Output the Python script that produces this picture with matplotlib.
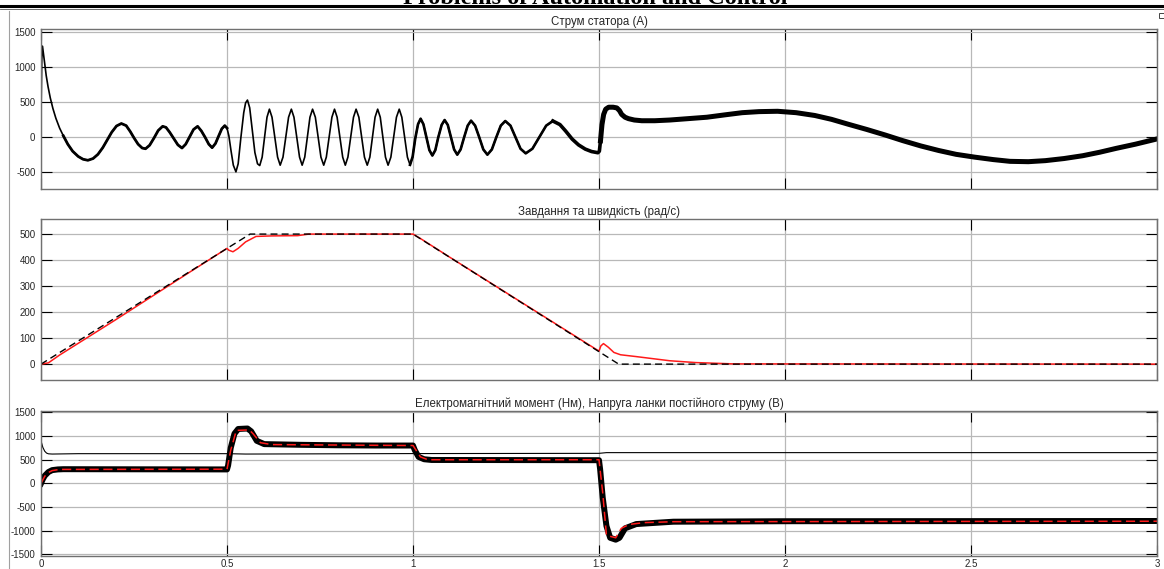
import matplotlib
matplotlib.use("Agg")
import matplotlib.pyplot as plt
from matplotlib.lines import Line2D
from matplotlib.patches import Rectangle
import numpy as np

plt.rcParams['font.family'] = ['Liberation Sans', 'DejaVu Sans']
plt.rcParams['axes.unicode_minus'] = False

# stator current, phase A (A)
t_cur_start = [0.000, 0.002, 0.004, 0.007, 0.010, 0.014, 0.019, 0.025, 0.032, 0.040,
               0.050, 0.060, 0.072, 0.085, 0.100, 0.113, 0.126, 0.140, 0.153, 0.166,
               0.178, 0.190, 0.203, 0.216, 0.229, 0.240, 0.250, 0.261, 0.272, 0.281,
               0.292, 0.304, 0.315, 0.327, 0.336, 0.346, 0.357, 0.368, 0.379, 0.389,
               0.399, 0.410, 0.421, 0.431, 0.441, 0.451, 0.460, 0.469, 0.477, 0.486,
               0.494, 0.500, 0.505, 0.511, 0.517, 0.524, 0.530, 0.537, 0.545, 0.550,
               0.555, 0.561, 0.568, 0.575, 0.582]
i_cur_start = [300, 1100, 1300, 1180, 1050, 880, 720, 560, 410, 270,
               130, 20, -100, -200, -275, -315, -330, -305, -245, -150,
               -40, 70, 160, 195, 165, 80, -10, -100, -155, -165,
               -115, -10, 95, 155, 140, 70, -20, -110, -155, -100,
               0, 110, 155, 90, 0, -100, -150, -90, 10, 120,
               165, 130, 20, -200, -400, -495, -380, -20, 350, 490,
               530, 420, 100, -220, -380]

t_cur_mid = [0.588, 0.5945, 0.601, 0.6075, 0.614, 0.621, 0.6285, 0.636, 0.643,
             0.6505, 0.658, 0.6655, 0.673, 0.680, 0.6875, 0.695, 0.702,
             0.709, 0.716, 0.723, 0.730, 0.7375, 0.745, 0.7525, 0.760,
             0.767, 0.7745, 0.782, 0.789, 0.796, 0.8035, 0.811, 0.818,
             0.825, 0.8325, 0.840, 0.847, 0.8545, 0.862, 0.8695, 0.877,
             0.884, 0.891, 0.898, 0.905, 0.912, 0.919, 0.926, 0.933,
             0.9405, 0.948, 0.9555, 0.963, 0.970, 0.9775, 0.985, 0.992]
i_cur_mid = [-405, -285, 0, 285, 400, 285, 0, -285, -400,
             -285, 0, 285, 400, 285, 0, -285, -400,
             -285, 0, 285, 400, 285, 0, -285, -400,
             -285, 0, 285, 400, 285, 0, -285, -400,
             -285, 0, 285, 400, 285, 0, -285, -400,
             -285, 0, 285, 400, 285, 0, -285, -400,
             -285, 0, 285, 400, 285, 0, -285, -395]

t_cur_end = [0.999, 1.006, 1.0135, 1.0205, 1.028, 1.036, 1.044, 1.052,
             1.060, 1.068, 1.077, 1.085, 1.0935, 1.102, 1.1105, 1.119,
             1.128, 1.1375, 1.147, 1.156, 1.167, 1.178, 1.189, 1.200,
             1.212, 1.224, 1.236, 1.248, 1.262, 1.2755, 1.289, 1.303,
             1.321, 1.3395, 1.358, 1.376, 1.395, 1.410, 1.428, 1.445,
             1.463, 1.480, 1.497, 1.501, 1.504, 1.508, 1.5125, 1.518,
             1.526, 1.538, 1.548, 1.555, 1.561, 1.570, 1.579, 1.595,
             1.615, 1.650, 1.690, 1.740, 1.790, 1.840, 1.885, 1.930,
             1.980, 2.030, 2.080, 2.125, 2.170, 2.220, 2.270, 2.317,
             2.365, 2.413, 2.460, 2.510, 2.560, 2.605, 2.654, 2.700,
             2.750, 2.800, 2.846, 2.890, 2.942, 3.000]
i_cur_end = [-280, -20, 185, 264, 185, 0, -185, -262,
             -185, 0, 175, 245, 175, 0, -175, -250,
             -175, 0, 165, 236, 165, 0, -175, -250,
             -175, 0, 165, 231, 165, 0, -165, -231,
             -165, 0, 165, 231, 180, 90, -28, -110,
             -170, -205, -222, -200, -52, 180, 325, 400,
             428, 428, 418, 380, 325, 285, 265, 245,
             235, 235, 245, 265, 285, 320, 350, 365,
             370, 350, 310, 255, 185, 110, 30, -50,
             -125, -190, -245, -285, -320, -345, -350, -335,
             -305, -265, -215, -160, -100, -25]

# speed reference and actual speed (rad/s)
t_w_ref = [0.0, 0.562, 1.0, 1.553, 3.0]
w_ref = [0, 500, 500, 0, 0]
t_w = [0.0, 0.02, 0.05, 0.1, 0.2, 0.3, 0.4, 0.5, 0.505, 0.516, 0.53, 0.55,
       0.578, 0.62, 0.69, 0.72, 1.0, 1.02, 1.1, 1.2, 1.3, 1.4, 1.5, 1.505,
       1.512, 1.525, 1.54, 1.558, 1.6, 1.69, 1.76, 1.86, 3.0]
w_act = [0, 5, 35, 80, 170, 262, 354, 445, 438, 432, 445, 470,
         491, 493, 494, 500, 500, 483, 410, 320, 230, 140, 50, 70,
         79, 65, 45, 36, 29, 13, 6, 1, 0]

# electromagnetic torque (Nm), its reference and DC link voltage (V)
t_trq = [0.0, 0.005, 0.01, 0.02, 0.03, 0.045, 0.06, 0.5, 0.503, 0.51, 0.52,
         0.53, 0.555, 0.565, 0.58, 0.6, 0.7, 0.8, 0.9, 1.0, 1.005, 1.015,
         1.03, 1.05, 1.5, 1.503, 1.51, 1.52, 1.53, 1.545, 1.555, 1.57, 1.6,
         1.7, 2.0, 3.0]
trq = [0, 90, 160, 240, 280, 295, 300, 295, 380, 750, 1050,
       1150, 1160, 1100, 900, 830, 815, 805, 800, 800, 700, 560,
       510, 495, 490, 300, -300, -900, -1150, -1190, -1150, -950, -860,
       -810, -800, -795]
t_trq_ref = [0.0, 0.01, 0.02, 0.03, 0.05, 0.5, 0.51, 0.525, 0.56, 0.57, 0.59,
             0.62, 1.0, 1.02, 1.04, 1.5, 1.51, 1.52, 1.545, 1.56, 1.58, 1.62,
             1.7, 3.0]
trq_ref = [0, 150, 230, 270, 295, 300, 700, 1120, 1130, 1050, 860,
           820, 800, 560, 500, 500, -200, -1100, -1150, -950, -870, -830,
           -810, -800]
t_udc = [0.0, 0.005, 0.01, 0.015, 0.02, 0.03, 0.1, 0.5, 0.55, 1.0, 1.5, 1.52, 3.0]
udc = [900, 760, 680, 640, 625, 620, 628, 628, 620, 630, 635, 650, 650]

x_ticks = [0, 0.5, 1, 1.5, 2, 2.5, 3]
x_labels = ['0', '0.5', '1', '1.5', '2', '2.5', '3']
titles = ['Струм статора (А)',
          'Завдання та швидкість (рад/с)',
          'Електромагнітний момент (Нм), Напруга ланки постійного струму (В)']

W, H = 1164, 569
fig = plt.figure(figsize=(W / 100, H / 100), dpi=100)


def axes_px(x0, y0, x1, y1):
    return fig.add_axes([x0 / W, 1 - y1 / H, (x1 - x0) / W, (y1 - y0) / H])


ax1 = axes_px(41, 29, 1157, 189)
ax2 = axes_px(41, 219, 1157, 380)
ax3 = axes_px(41, 411, 1157, 556)

for ax, title in zip([ax1, ax2, ax3], titles):
    ax.set_xlim(0, 3)
    ax.set_xticks(x_ticks)
    ax.set_xticklabels(x_labels)
    ax.grid(True, color='#b8b8b8', lw=0.9)
    ax.set_axisbelow(True)
    ax.tick_params(direction='in', length=8, width=0.8, top=True, right=True,
                   labelsize=7, labelcolor='#262626', pad=4)
    ax.tick_params(axis='x', pad=2)
    for sp in ax.spines.values():
        sp.set_color('#707070')
        sp.set_linewidth(1.0)
    ax.set_title(title, fontsize=8.3, color='#262626', pad=3)

ax1.tick_params(labelbottom=False)
ax2.tick_params(labelbottom=False)

# panel 1
t_cur = np.array(t_cur_start + t_cur_mid + t_cur_end)
i_cur = np.array(i_cur_start + i_cur_mid + i_cur_end)
ax1.plot(t_cur, i_cur, color='black', lw=1.2)
m = (t_cur >= 0.06) & (t_cur <= 0.5)
ax1.plot(t_cur[m], i_cur[m], color='black', lw=2.0)
m = (t_cur >= 0.99) & (t_cur <= 1.38)
ax1.plot(t_cur[m], i_cur[m], color='black', lw=1.9)
m = (t_cur >= 1.37) & (t_cur <= 1.505)
ax1.plot(t_cur[m], i_cur[m], color='black', lw=2.6)
m = t_cur >= 1.504
ax1.plot(t_cur[m], i_cur[m], color='black', lw=3.6)
ax1.set_ylim(-740, 1545)
ax1.set_yticks([-500, 0, 500, 1000, 1500])

# panel 2
ax2.plot(t_w, w_act, color='#ff1a1a', lw=1.1)
ax2.plot(t_w_ref, w_ref, color='black', lw=1.0, dashes=(5, 3))
ax2.set_ylim(-61, 558)
ax2.set_yticks([0, 100, 200, 300, 400, 500])

# panel 3
ax3.plot(t_udc, udc, color='black', lw=0.8)
ax3.plot(t_trq, trq, color='black', lw=4.3)
ax3.plot(t_trq_ref, trq_ref, color='#ff1a1a', lw=1.1, dashes=(6, 3))
ax3.set_ylim(-1535, 1530)
ax3.set_yticks([-1500, -1000, -500, 0, 500, 1000, 1500])

# page decorations
fig.text(595 / W, 1 - 4 / H, 'Problems of Automation and Control',
         family='Liberation Serif', weight='bold', fontsize=17.5,
         ha='center', va='baseline')
fig.add_artist(Line2D([0, 1], [1 - 6 / H] * 2, transform=fig.transFigure,
                      color='black', lw=2.2))
fig.add_artist(Line2D([0, 1], [1 - 8.5 / H] * 2, transform=fig.transFigure,
                      color='#555555', lw=0.6))
fig.add_artist(Line2D([9 / W] * 2, [0, 1 - 11 / H], transform=fig.transFigure,
                      color='#a0a0a0', lw=0.8))
fig.add_artist(Rectangle((1159 / W, 1 - 18 / H), 5 / W, 5 / H,
                         transform=fig.transFigure, fill=False,
                         edgecolor='#444444', lw=0.7))

fig.savefig('out.png', dpi=100)
